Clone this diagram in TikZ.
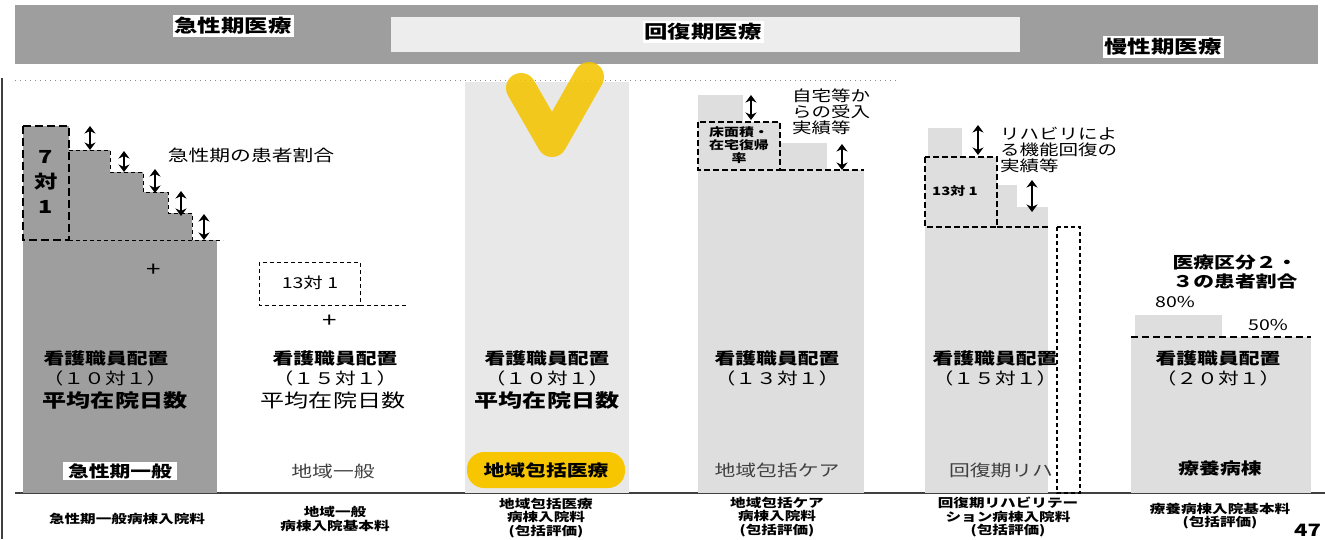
\documentclass[tikz,border=0pt]{standalone}
\usepackage{fontspec}
\setmainfont{Noto Sans CJK JP}[FakeStretch=1.3]
\usetikzlibrary{arrows.meta}
\definecolor{darkfill}{gray}{0.62}
\definecolor{lightfill}{gray}{0.87}
\definecolor{lighterfill}{gray}{0.91}
\definecolor{bandfill}{gray}{0.93}
\definecolor{checky}{HTML}{F5C400}
\definecolor{pilly}{HTML}{F7C600}
\tikzset{
  hdr/.style={fill=white, inner sep=2pt, font=\fontsize{18}{20}\selectfont\bfseries},
  nurse/.style={inner sep=0pt, font=\fontsize{16}{18}\selectfont\bfseries},
  ratio/.style={inner sep=0pt, font=\fontsize{16}{18}\selectfont},
  stay/.style={inner sep=0pt, font=\fontsize{18.5}{20}\selectfont\bfseries},
  stayr/.style={inner sep=0pt, font=\fontsize{18.5}{20}\selectfont},
  wardlbl/.style={inner sep=0pt, font=\fontsize{16}{18}\selectfont},
  wardbold/.style={inner sep=0pt, font=\fontsize{16}{18}\selectfont\bfseries},
  fee/.style={inner sep=0pt, align=center, font=\fontsize{12}{13.5}\selectfont\bfseries},
  note/.style={inner sep=0pt, align=left, font=\fontsize{15}{16}\selectfont},
  smallbox/.style={inner sep=0pt, align=center, font=\fontsize{11.5}{13}\selectfont\bfseries},
  plus/.style={inner sep=0pt, font=\fontsize{20}{20}\selectfont},
  thindash/.style={line width=1pt, dash pattern=on 4pt off 3pt},
  boxdash/.style={line width=1.8pt, dash pattern=on 6pt off 3pt},
  thickdash/.style={line width=2.6pt, dash pattern=on 8pt off 4pt},
  dblarr/.style={line width=2.2pt, {Stealth[length=7.5pt,width=11pt]}-{Stealth[length=7.5pt,width=11pt]}},
}
\newcommand\mkdblarrow[4]{%
  \coordinate (#1t) at (#2,#3);
  \coordinate (#1b) at (#2,#4);
  \draw[dblarr] (#1t) -- (#1b);}
\begin{document}
\begin{tikzpicture}[x=1pt,y=-1pt]
\useasboundingbox (0,0) rectangle (1325,539);
\fill[white] (0,0) rectangle (1325,539);

% ---------- top bar ----------
\fill[darkfill] (15,5) rectangle (1318,64);
\fill[bandfill] (391,17) rectangle (1020,52);
\node[hdr] (hacute) at (233,26) {急性期医療};
\node[hdr, fill=white] (hrecov) at (703,32) {回復期医療};
\node[hdr] (hchron) at (1163,47) {慢性期医療};
\draw[black!45, line width=1pt, dash pattern=on 1pt off 4pt] (15,80) -- (897,80);

% left border and bottom rule
\draw[black!75, line width=1.5pt] (2,78) -- (2,539);
\draw[black!75, line width=1.5pt] (15,493) -- (1325,493);

% ---------- column 1 : acute general ----------
\fill[darkfill] (23,240) rectangle (217,493);
\fill[darkfill] (23,126) -| (69,150) -| (110,172) -| (143,192) -| (168,213) -| (192,240) -- (23,240) -- cycle;
\draw[thindash] (69,150) -| (110,172) -| (143,192) -| (168,213) -| (192,240);
\draw[thindash] (69,240) -- (223,240);
\draw[thickdash] (23,126) rectangle (69,240);
\node[inner sep=0pt, font=\fontsize{18}{20}\selectfont\bfseries] (s7) at (46,157) {7};
\node[inner sep=0pt, font=\fontsize{18}{20}\selectfont\bfseries] (sdui) at (46,182) {対};
\node[inner sep=0pt, font=\fontsize{18}{20}\selectfont\bfseries] (s1) at (46,207) {1};
\mkdblarrow{a1}{90}{126}{150}
\mkdblarrow{a2}{124}{151}{172}
\mkdblarrow{a3}{155}{169}{193}
\mkdblarrow{a4}{181}{191}{216}
\mkdblarrow{a5}{204}{214}{240}
\node[inner sep=0pt, font=\fontsize{16}{18}\selectfont] (acuteratio) at (251,155) {急性期の患者割合};
\node[plus] (plus1) at (154,270) {+};
\node[nurse] (n1) at (106,358) {看護職員配置};
\node[ratio] (r1) at (105,378) {（１０対１）};
\node[stay] (d1) at (115,400) {平均在院日数};
\node[fill=white, minimum width=114pt, minimum height=18pt, inner sep=0pt, font=\fontsize{16}{18}\selectfont\bfseries] (w1) at (120,471) {急性期一般};
\node[fee] (f1) at (127,519) {急性期一般病棟入院料};

% ---------- column 2 : regional general ----------
\draw[thindash] (259,262) rectangle (360,305);
\draw[thindash] (360,305) -- (406,305);
\node[inner sep=0pt, font=\fontsize{15}{17}\selectfont] (b2) at (310,283) {13対 1};
\node[plus] (plus2) at (330,321) {+};
\node[nurse] (n2) at (335,358) {看護職員配置};
\node[ratio] (r2) at (335,378) {（１５対１）};
\node[stayr] (d2) at (333,400) {平均在院日数};
\node[wardlbl, text=black!75] (w2) at (333,471) {地域一般};
\node[fee] (f2) at (335,519) {地域一般\\病棟入院基本料};

% ---------- column 3 : regional comprehensive medical ----------
\fill[lighterfill] (465,82) rectangle (629,493);
\draw[checky, opacity=0.88, line width=30pt, line cap=round, line join=round] (521,88) -- (552,142) -- (589,77);
\node[nurse] (n3) at (547,358) {看護職員配置};
\node[ratio] (r3) at (547,378) {（１０対１）};
\node[stay] (d3) at (547,400) {平均在院日数};
\node[fill=pilly, rounded corners=17pt, minimum width=158pt, minimum height=36pt, inner sep=0pt, font=\fontsize{16}{18}\selectfont\bfseries] (w3) at (546,470) {地域包括医療};
\node[fee] (f3) at (546,518) {地域包括医療\\病棟入院料\\(包括評価)};

% ---------- column 4 : regional comprehensive care ----------
\fill[lightfill] (698,170) rectangle (864,493);
\fill[lightfill] (698,95) rectangle (743,122);
\fill[lightfill] (698,122) rectangle (780,170);
\fill[lightfill] (780,143) rectangle (827,170);
\draw[boxdash] (698,122) rectangle (780,170);
\draw[boxdash] (780,170) -- (864,170);
\node[smallbox] (b4) at (739,145) {床面積・\\在宅復帰\\率};
\mkdblarrow{a6}{751}{95}{120}
\mkdblarrow{a7}{842}{144}{170}
\node[note, anchor=west] (t4) at (792,112) {自宅等か\\らの受入\\実績等};
\node[nurse] (n4) at (777,358) {看護職員配置};
\node[ratio] (r4) at (777,378) {（１３対１）};
\node[wardlbl, text=black!75] (w4) at (777,470) {地域包括ケア};
\node[fee] (f4) at (777,517) {地域包括ケア\\病棟入院料\\(包括評価)};

% ---------- column 5 : convalescent rehab ----------
\fill[lightfill] (925,227) rectangle (1048,493);
\fill[lightfill] (928,128) rectangle (962,157);
\fill[lightfill] (925,157) rectangle (997,227);
\fill[lightfill] (997,185) rectangle (1017,227);
\fill[lightfill] (1017,207) rectangle (1048,227);
\draw[boxdash] (925,157) rectangle (997,227);
\draw[boxdash] (997,227) -- (1048,227);
\draw[thindash, line width=1.3pt] (1057,227) rectangle (1080,493);
\node[smallbox] (b5) at (955,191) {13対 1};
\mkdblarrow{a8}{978}{125}{155}
\mkdblarrow{a9}{1032}{180}{212}
\node[note, anchor=west] (t5) at (1000,150) {リハビリによ\\る機能回復の\\実績等};
\node[nurse] (n5) at (995,358) {看護職員配置};
\node[ratio] (r5) at (995,378) {（１５対１）};
\node[wardlbl, text=black!75] (w5) at (1001,470) {回復期リハ};
\node[fee] (f5) at (1008,517) {回復期リハビリテー\\ション病棟入院料\\(包括評価)};

% ---------- column 6 : long-term care ----------
\fill[lightfill] (1131,337) rectangle (1311,493);
\fill[lightfill] (1135,315) rectangle (1222,337);
\draw[line width=2pt, dash pattern=on 7pt off 4pt] (1131,337) -- (1311,337);
\node[inner sep=0pt, align=center, font=\fontsize{16}{19}\selectfont\bfseries] (t6) at (1235,272) {医療区分２・\\３の患者割合};
\node[inner sep=0pt, font=\fontsize{15}{17}\selectfont] (p80) at (1175,302) {80\%};
\node[inner sep=0pt, font=\fontsize{15}{17}\selectfont] (p50) at (1268,325) {50\%};
\node[nurse] (n6) at (1218,358) {看護職員配置};
\node[ratio] (r6) at (1218,378) {（２０対１）};
\node[wardbold] (w6) at (1220,468) {療養病棟};
\node[fee] (f6) at (1220,516) {療養病棟入院基本料\\(包括評価)};

\node[anchor=south west, inner sep=0pt, font=\fontsize{17}{19}\selectfont\bfseries] (pg) at (1294,537) {47};
\end{tikzpicture}
\end{document}
